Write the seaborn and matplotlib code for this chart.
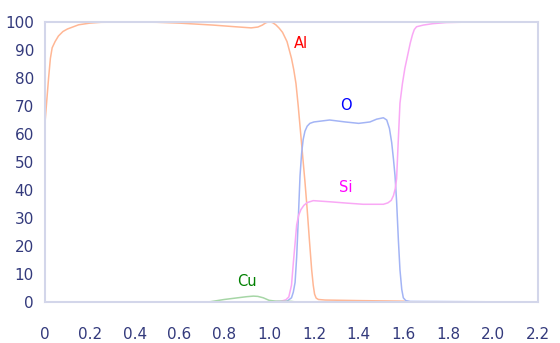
import matplotlib
matplotlib.use("Agg")
import matplotlib.pyplot as plt
import seaborn as sns
import pandas as pd

# Depth profile (atomic %) of each element vs. depth
al_x = [0, 0.008, 0.016, 0.024, 0.032, 0.045, 0.06, 0.08, 0.1, 0.15, 0.2, 0.25, 0.4,
        0.5, 0.6, 0.75, 0.85, 0.92, 0.95, 0.97, 0.985, 1.0, 1.015, 1.03, 1.045, 1.06,
        1.08, 1.1, 1.11, 1.12, 1.13, 1.14, 1.15, 1.16, 1.17, 1.18, 1.19, 1.197, 1.203,
        1.21, 1.22, 1.25, 1.4, 1.6, 1.62, 2.2]
al_y = [64, 72, 80, 87, 90.8, 93, 95, 96.6, 97.5, 99, 99.6, 99.9, 100,
        99.9, 99.6, 98.9, 98.3, 97.9, 98.2, 98.9, 99.7, 100.1, 99.8, 99, 97.8, 96.3,
        93, 87, 83, 78, 70, 61, 52, 43, 33, 22, 11.5, 6, 2.8,
        1.4, 0.9, 0.7, 0.5, 0.3, 0, 0]

o_x = [0.95, 1.0, 1.05, 1.08, 1.1, 1.108, 1.116, 1.123, 1.13, 1.138, 1.145, 1.152,
       1.16, 1.17, 1.182, 1.2, 1.27, 1.34, 1.4, 1.45, 1.48, 1.51, 1.525, 1.537, 1.547,
       1.555, 1.562, 1.569, 1.577, 1.584, 1.592, 1.599, 1.61, 1.63, 2.2]
o_y = [0, 0, 0.2, 0.3, 1.5, 3.5, 7, 16, 29, 45, 53, 58,
       61, 62.8, 63.8, 64.3, 65, 64.3, 63.8, 64.3, 65.3, 65.8, 65, 62, 57,
       51, 45, 36, 22, 11.5, 4.5, 1.5, 0.5, 0.2, 0]

si_x = [0.95, 1.05, 1.075, 1.088, 1.1, 1.108, 1.116, 1.123, 1.132, 1.142, 1.155, 1.17,
        1.197, 1.27, 1.35, 1.42, 1.51, 1.53, 1.545, 1.555, 1.563, 1.569, 1.575, 1.584,
        1.595, 1.606, 1.618, 1.63, 1.64, 1.648, 1.658, 1.688, 1.73, 1.79, 1.9, 2.2]
si_y = [0, 0.2, 0.8, 1.8, 6, 13.8, 21, 27.5, 31, 33, 34.5, 35.5,
        36.2, 35.8, 35.3, 34.9, 34.9, 35.4, 36.3, 38, 40.5, 44, 55, 71,
        78, 83.5, 88, 92.5, 95.5, 97.3, 98.3, 98.9, 99.4, 99.8, 100, 100]

cu_x = [0.73, 0.8, 0.84, 0.9, 0.93, 0.95, 0.974, 1.0, 1.03, 1.1, 1.12]
cu_y = [0, 0.9, 1.3, 1.9, 2.1, 2.0, 1.5, 0.6, 0.3, 0.2, 0]

x_ticks = [0, 0.2, 0.4, 0.6, 0.8, 1.0, 1.2, 1.4, 1.6, 1.8, 2.0, 2.2]
x_tick_labels = ["0", "0.2", "0.4", "0.6", "0.8", "1.0", "1.2", "1.4", "1.6", "1.8", "2.0", "2.2"]
y_ticks = list(range(0, 101, 10))

series = [
    ("Al", al_x, al_y, "#ffb795", "#ff0000", (1.14, 92.5)),
    ("O", o_x, o_y, "#a3b4f5", "#0000ff", (1.343, 70)),
    ("Si", si_x, si_y, "#f9a8f5", "#ff00ff", (1.343, 41)),
    ("Cu", cu_x, cu_y, "#a6d6a6", "#008000", (0.9, 7.5)),
]

sns.set_style("white")
plt.rcParams["font.family"] = ["DejaVu Sans"]

fig = plt.figure(figsize=(5.6, 3.43), dpi=100)
ax = fig.add_axes([45 / 560, 1 - 302 / 343, 493 / 560, 280 / 343])

for name, xs, ys, line_c, text_c, pos in series:
    df = pd.DataFrame({"depth": xs, "conc": ys})
    sns.lineplot(data=df, x="depth", y="conc", ax=ax, color=line_c, linewidth=1.1,
                 estimator=None, sort=False)
    ax.text(pos[0], pos[1], name, color=text_c, fontsize=10.5, ha="center", va="center")

ax.set_xlim(0, 2.2)
ax.set_ylim(0, 100)
ax.set_xticks(x_ticks)
ax.set_xticklabels(x_tick_labels)
ax.set_yticks(y_ticks)
ax.set_xlabel("")
ax.set_ylabel("")

axis_c = "#d3d6ea"
for s in ax.spines.values():
    s.set_visible(True)
    s.set_color(axis_c)
    s.set_linewidth(1.5)

ax.tick_params(axis="both", colors=axis_c, labelcolor="#333a7c", labelsize=11,
               length=5, width=1.2, direction="out")
ax.tick_params(axis="x", pad=13)
ax.tick_params(axis="y", pad=3)
ax.grid(False)

fig.savefig("out.png", dpi=100)
